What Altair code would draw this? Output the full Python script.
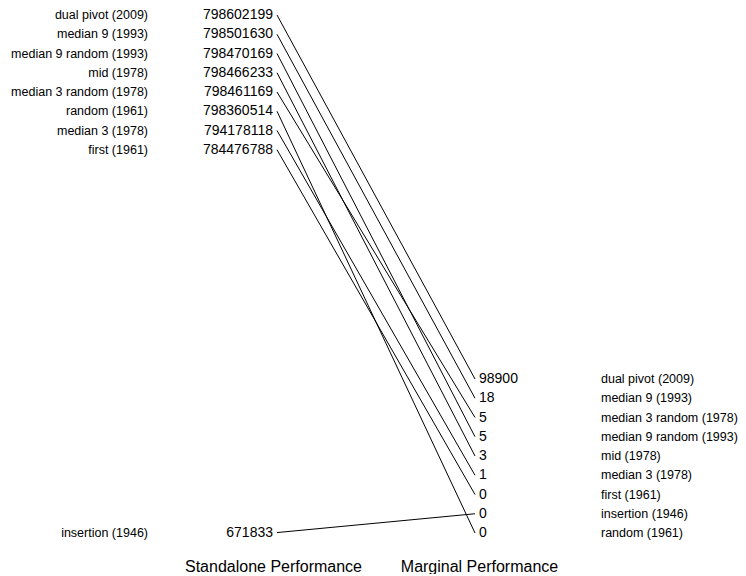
import altair as alt
import pandas as pd

# ---- data ----
names = [
    "dual pivot (2009)", "median 9 (1993)", "median 9 random (1993)", "mid (1978)",
    "median 3 random (1978)", "random (1961)", "median 3 (1978)", "first (1961)",
    "insertion (1946)",
]
standalone = [798602199, 798501630, 798470169, 798466233, 798461169,
              798360514, 794178118, 784476788, 671833]
marginal = [98900, 18, 5, 3, 5, 0, 1, 0, 0]
# order of the right-hand column, top to bottom (ties as in the reference)
right_order = [
    "dual pivot (2009)", "median 9 (1993)", "median 3 random (1978)",
    "median 9 random (1993)", "mid (1978)", "median 3 (1978)", "first (1961)",
    "insertion (1946)", "random (1961)",
]
sides = ["Standalone Performance", "Marginal Performance"]

# ---- layout parameters ----
PLOT_W = 600
PLOT_H = 518
ROW_PX = 19.25
FONT = "Liberation Sans, Arial, Helvetica, sans-serif"

top = max(standalone)
gap = top * ROW_PX / PLOT_H  # label spacing in data units

# dodge left column downward from the top
left_sorted = sorted(names, key=lambda n: -standalone[names.index(n)])
pos_left, prev = {}, None
for n in left_sorted:
    v = standalone[names.index(n)]
    p = v if prev is None else min(v, prev - gap)
    pos_left[n] = p
    prev = p

# dodge right column upward from the bottom
pos_right, prev = {}, None
for n in reversed(right_order):
    v = marginal[names.index(n)]
    p = v if prev is None else max(v, prev + gap)
    pos_right[n] = p
    prev = p

rows = []
for i, n in enumerate(names):
    rows.append({"name": n, "side": sides[0], "value": standalone[i],
                 "valtxt": str(standalone[i]), "pos": pos_left[n]})
    rows.append({"name": n, "side": sides[1], "value": marginal[i],
                 "valtxt": str(marginal[i]), "pos": pos_right[n]})
df = pd.DataFrame(rows)

x_enc = alt.X(
    "side:N",
    scale=alt.Scale(type="point", domain=sides, range=[269, 467], padding=0),
    sort=sides,
    axis=alt.Axis(title=None, ticks=False, domain=False, grid=False,
                  labelAngle=0, labelFontSize=16, labelPadding=25,
                  labelOffset={"condition": {"test": "datum.value == 'Standalone Performance'",
                                             "value": -4}, "value": 4},
                  labelFont=FONT, labelColor="#000000"),
)
y_enc = alt.Y("pos:Q", scale=alt.Scale(domain=[0, top], nice=False, zero=False), axis=None)

base = alt.Chart(df).encode(x=x_enc, y=y_enc)

lines = base.mark_line(color="#000000", strokeWidth=1).encode(detail="name:N")

left_val = base.transform_filter(alt.datum.side == sides[0]).mark_text(
    align="right", baseline="middle", dx=-4, fontSize=14, font=FONT, color="#000000"
).encode(text="valtxt:N")
left_name = base.transform_filter(alt.datum.side == sides[0]).mark_text(
    align="right", baseline="middle", dx=-129, fontSize=12.5, font=FONT, color="#000000"
).encode(text="name:N")
right_val = base.transform_filter(alt.datum.side == sides[1]).mark_text(
    align="left", baseline="middle", dx=4, fontSize=14, font=FONT, color="#000000"
).encode(text="valtxt:N")
right_name = base.transform_filter(alt.datum.side == sides[1]).mark_text(
    align="left", baseline="middle", dx=126, fontSize=12.5, font=FONT, color="#000000"
).encode(text="name:N")

chart = alt.layer(lines, left_val, left_name, right_val, right_name).properties(
    width=PLOT_W, height=PLOT_H, padding=0, background="white"
).configure_view(stroke=None)

chart.save("out.html", embed_options={"renderer": "svg", "actions": False})
